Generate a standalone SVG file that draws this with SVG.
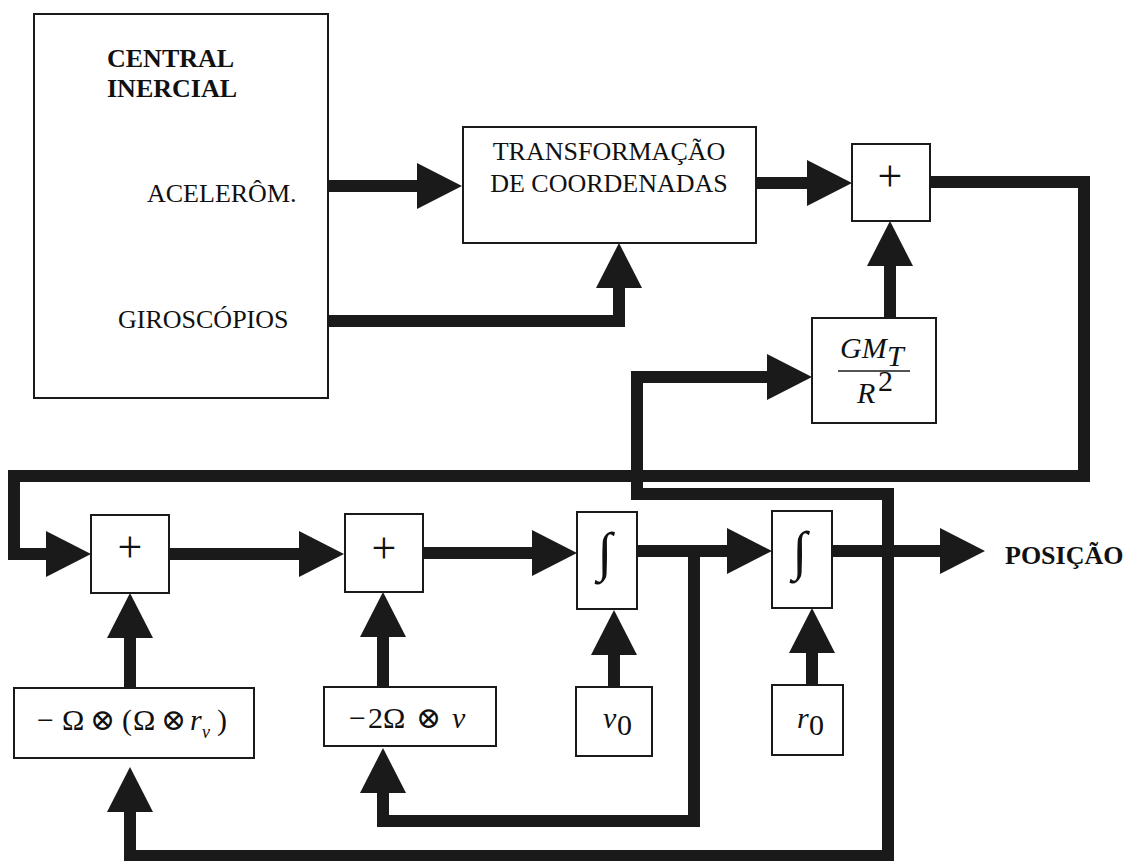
<svg xmlns="http://www.w3.org/2000/svg" width="1127" height="861" viewBox="0 0 1127 861">
<defs>
<marker id="ah" viewBox="0 0 45 46" refX="0" refY="23" markerUnits="userSpaceOnUse" markerWidth="45" markerHeight="46" orient="auto">
<path d="M0,0 L45,23 L0,46 Z" fill="#1a1a1a"/>
</marker>
<style>
.box{fill:#fff;stroke:#1a1a1a;stroke-width:2}
.wire{fill:none;stroke:#1a1a1a;stroke-width:12;stroke-linejoin:miter;stroke-linecap:butt}
.arr{marker-end:url(#ah)}
.t{font-family:"Liberation Serif","DejaVu Serif",serif;fill:#111;font-size:26px}
.b{font-weight:bold}
.m{font-family:"Liberation Serif","DejaVu Serif",serif;fill:#111;font-size:30px}
.i{font-style:italic}
.op{font-family:"DejaVu Serif","Liberation Serif",serif}
.plus{font-family:"Liberation Serif","DejaVu Serif",serif;fill:#111;font-size:44px;text-anchor:middle}
.int{font-family:"Liberation Serif","DejaVu Serif",serif;fill:#111;font-size:54px;text-anchor:middle;font-style:italic}
</style>
</defs>
<rect width="1127" height="861" fill="#fff"/>
<g id="connectors">
<path class="wire arr" d="M328,186 H417"/>
<path class="wire arr" d="M328,321 H619 V288"/>
<path class="wire arr" d="M756,183 H807"/>
<path class="wire arr" d="M890,318 V266"/>
<path class="wire arr" d="M930,182 H1084 V476 H14 V554 H46"/>
<path class="wire arr" d="M169,554 H299"/>
<path class="wire arr" d="M423,553 H532"/>
<path class="wire arr" d="M130,688 V638"/>
<path class="wire arr" d="M383,687 V637"/>
<path class="wire arr" d="M637,551 H727"/>
<path class="wire arr" d="M832,551 H940"/>
<path class="wire arr" d="M694,551 V821 H383 V793"/>
<path class="wire arr" d="M614,687 V655"/>
<path class="wire arr" d="M812,685 V653"/>
<path class="wire arr" d="M888,551 V856 H130 V812"/>
<path class="wire arr" d="M888,551 V494 H637 V377 H767"/>
</g>
<g id="central">
<rect class="box" x="34" y="14" width="294" height="384"/>
<text class="t b" x="107" y="67">CENTRAL</text>
<text class="t b" x="107" y="97">INERCIAL</text>
<text class="t" x="147" y="202">ACELERÔM.</text>
<text class="t" x="118" y="328">GIROSCÓPIOS</text>
</g>
<g id="transform">
<rect class="box" x="463" y="127" width="293" height="116"/>
<text class="t" x="609" y="160" text-anchor="middle">TRANSFORMAÇÃO</text>
<text class="t" x="609" y="192" text-anchor="middle">DE COORDENADAS</text>
</g>
<g id="sum-top">
<rect class="box" x="852" y="144" width="78" height="77"/>
<text class="plus" x="890" y="191">+</text>
</g>
<g id="gravity">
<rect class="box" x="812" y="318" width="124" height="105"/>
<text class="m i" x="840" y="358" font-size="28">GM</text>
<text class="m i" x="887" y="366" font-size="18">T</text>
<line x1="838" y1="371" x2="910" y2="371" stroke="#1a1a1a" stroke-width="1.5"/>
<text class="m i" x="857" y="403" font-size="28">R</text>
<text class="m" x="878" y="391" font-size="16">2</text>
</g>
<g id="sum-1">
<rect class="box" x="91" y="515" width="78" height="78"/>
<text class="plus" x="130" y="562">+</text>
</g>
<g id="sum-2">
<rect class="box" x="345" y="514" width="78" height="78"/>
<text class="plus" x="384" y="563">+</text>
</g>
<g id="integrator-1">
<rect class="box" x="577" y="512" width="60" height="97"/>
<text class="int" x="605" y="570">∫</text>
</g>
<g id="integrator-2">
<rect class="box" x="772" y="511" width="60" height="97"/>
<text class="int" x="800" y="569">∫</text>
</g>
<g id="centrifugal">
<rect class="box" x="14" y="688" width="240" height="70"/>
<text class="m" y="730"><tspan x="37">−</tspan><tspan x="62">Ω</tspan><tspan class="op" x="90">⊗</tspan><tspan x="122">(</tspan><tspan x="133">Ω</tspan><tspan class="op" x="161">⊗</tspan><tspan class="i" x="190">r</tspan><tspan class="i" x="202" y="738" font-size="18">v</tspan><tspan x="217" y="730">)</tspan></text>
</g>
<g id="coriolis">
<rect class="box" x="324" y="687" width="172" height="59"/>
<text class="m" y="728"><tspan x="349">−</tspan><tspan x="368">2</tspan><tspan x="383">Ω</tspan><tspan class="op" x="416">⊗</tspan><tspan class="i" x="452">v</tspan></text>
</g>
<g id="v0">
<rect class="box" x="576" y="687" width="76" height="69"/>
<text class="m i" x="603" y="728">v</text>
<text class="m" x="617" y="735" font-size="18">0</text>
</g>
<g id="r0">
<rect class="box" x="772" y="685" width="71" height="70"/>
<text class="m i" x="797" y="728">r</text>
<text class="m" x="809" y="735" font-size="18">0</text>
</g>
<g id="output">
<text class="t b" x="1005" y="564">POSIÇÃO</text>
</g>
</svg>
